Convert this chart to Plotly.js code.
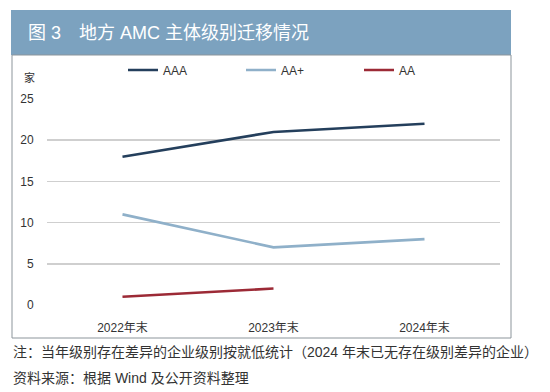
<!DOCTYPE html>
<html><head><meta charset="utf-8">
<script src="https://cdn.plot.ly/plotly-3.0.1.min.js"></script>
<style>html,body{margin:0;padding:0;background:#fff;}#chart{width:550px;height:392px;}</style>
</head><body><div id="chart"></div>
<script>
var categories = ['2022年末', '2023年末', '2024年末'];
var seriesNames = ['AAA', 'AA+', 'AA'];
var aaa = [18, 21, 22];
var aaPlus = [11, 7, 8];
var aa = [1, 2, null];
var yTicks = [0, 5, 10, 15, 20, 25];

var L = 47, R = 50, T = 99, B = 87, W = 550 - L - R, H = 392 - T - B;
function px(x) { return (x - L) / W; }
function py(y) { return (392 - B - y) / H; }

var font = 'Liberation Sans, Noto Sans CJK SC, sans-serif';
var cjk = 'Noto Sans CJK SC, Liberation Sans, sans-serif';
var traces = [
  {x: categories, y: aaa, name: seriesNames[0], type: 'scatter', mode: 'lines', line: {color: '#243f5c', width: 2.6}},
  {x: categories, y: aaPlus, name: seriesNames[1], type: 'scatter', mode: 'lines', line: {color: '#8fb0c9', width: 2.6}},
  {x: categories, y: aa, name: seriesNames[2], type: 'scatter', mode: 'lines', line: {color: '#9c2a36', width: 2.6}}
];

var layout = {
  width: 550, height: 392,
  margin: {l: L, r: R, t: T, b: B},
  paper_bgcolor: '#ffffff', plot_bgcolor: '#ffffff',
  font: {family: font, size: 12, color: '#333333'},
  showlegend: true,
  legend: {orientation: 'h', x: px(123), y: py(70), xanchor: 'left', yanchor: 'middle',
           entrywidth: 73, entrywidthmode: 'pixels', font: {size: 12, color: '#333'},
           bgcolor: 'rgba(0,0,0,0)', itemclick: false},
  xaxis: {type: 'category', range: [-0.5, 2.5], showgrid: false, zeroline: false, showline: false,
          ticks: 'outside', ticklen: 12, tickcolor: 'rgba(0,0,0,0)', fixedrange: true,
          tickfont: {size: 12, color: '#333'}},
  yaxis: {range: [0, 25], tickvals: yTicks, showgrid: true, gridcolor: '#cfcfcf', gridwidth: 1.5,
          zeroline: false, showline: false, ticks: 'outside', ticklen: 10, tickcolor: 'rgba(0,0,0,0)',
          tickfont: {size: 12, color: '#333'}, fixedrange: true},
  shapes: [
    {type: 'rect', xref: 'paper', yref: 'paper', x0: px(11), x1: px(511), y0: py(55), y1: py(10),
     fillcolor: '#7ca2bf', line: {width: 0}, layer: 'below'},
    {type: 'rect', xref: 'paper', yref: 'paper', x0: px(12), x1: px(511), y0: py(338), y1: py(55),
     fillcolor: 'rgba(0,0,0,0)', line: {color: '#8c959b', width: 1}, layer: 'below'}
  ],
  annotations: [
    {xref: 'paper', yref: 'paper', x: px(26), y: py(33), xanchor: 'left', yanchor: 'middle', showarrow: false,
     text: '图 3　地方 AMC 主体级别迁移情况', font: {family: font, size: 18, color: '#ffffff'}},
    {xref: 'paper', yref: 'paper', x: px(29), y: py(77), xanchor: 'center', yanchor: 'middle', showarrow: false,
     text: '家', font: {family: cjk, size: 11, color: '#333'}},
    {xref: 'paper', yref: 'paper', x: px(11), y: py(352), xanchor: 'left', yanchor: 'middle', showarrow: false,
     text: '注：当年级别存在差异的企业级别按就低统计（2024 年末已无存在级别差异的企业）', font: {family: font, size: 14, color: '#333'}},
    {xref: 'paper', yref: 'paper', x: px(11), y: py(378), xanchor: 'left', yanchor: 'middle', showarrow: false,
     text: '资料来源：根据 Wind 及公开资料整理', font: {family: font, size: 14, color: '#333'}}
  ]
};
Plotly.newPlot('chart', traces, layout, {displayModeBar: false, staticPlot: true});
</script></body></html>
